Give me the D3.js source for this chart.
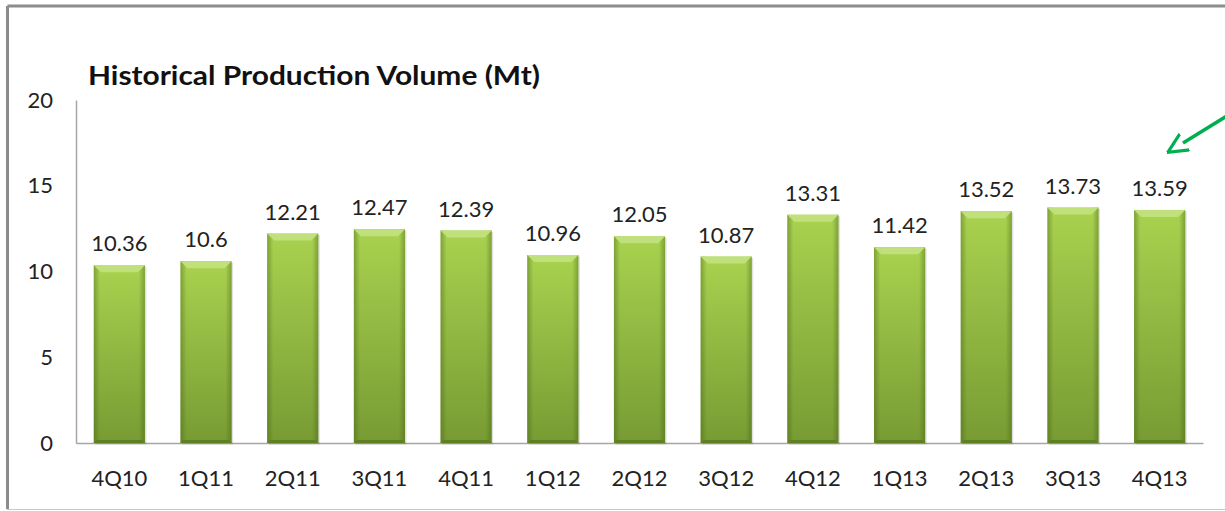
<!DOCTYPE html>
<html>
<head>
<meta charset="utf-8">
<script src="https://cdn.jsdelivr.net/npm/d3@7"></script>
<style>
  body { margin: 0; background: #fff; }
  svg { display: block; }
</style>
</head>
<body>
<div class="chart"></div>
<script>
var width = 1225
var height = 511

const quarters = ["4Q10","1Q11","2Q11","3Q11","4Q11","1Q12","2Q12","3Q12","4Q12","1Q13","2Q13","3Q13","4Q13"]
const volumes = [10.36, 10.6, 12.21, 12.47, 12.39, 10.96, 12.05, 10.87, 13.31, 11.42, 13.52, 13.73, 13.59]
const volumeLabels = ["10.36","10.6","12.21","12.47","12.39","10.96","12.05","10.87","13.31","11.42","13.52","13.73","13.59"]
const yTicks = [0, 5, 10, 15, 20]
const title = "Historical Production Volume (Mt)"

var font = "Lato, 'Open Sans', sans-serif"

var svg = d3.select(".chart")
  .append("svg")
  .attr("width", width)
  .attr("height", height)

// slide frame
svg.append("line")
  .attr("x1", 7.5).attr("y1", 6).attr("x2", width).attr("y2", 6)
  .attr("stroke", "#8c8c8c").attr("stroke-width", 3)
svg.append("line")
  .attr("x1", 7.5).attr("y1", 6).attr("x2", 7.5).attr("y2", 509)
  .attr("stroke", "#8c8c8c").attr("stroke-width", 3)
svg.append("line")
  .attr("x1", 7).attr("y1", 509.5).attr("x2", width).attr("y2", 509.5)
  .attr("stroke", "#c8c8c8").attr("stroke-width", 1)

var defs = svg.append("defs")
var vg = defs.append("linearGradient").attr("id", "barV")
  .attr("x1", 0).attr("y1", 0).attr("x2", 0).attr("y2", 1)
vg.append("stop").attr("offset", "0%").attr("stop-color", "#a9d24f")
vg.append("stop").attr("offset", "100%").attr("stop-color", "#779b33")
var hg = defs.append("linearGradient").attr("id", "barH")
  .attr("x1", 0).attr("y1", 0).attr("x2", 1).attr("y2", 0)
hg.append("stop").attr("offset", "0%").attr("stop-color", "#3e5a12").attr("stop-opacity", 0.4)
hg.append("stop").attr("offset", "12%").attr("stop-color", "#3e5a12").attr("stop-opacity", 0)
hg.append("stop").attr("offset", "88%").attr("stop-color", "#3e5a12").attr("stop-opacity", 0)
hg.append("stop").attr("offset", "100%").attr("stop-color", "#3e5a12").attr("stop-opacity", 0.4)

var x = d3.scaleBand()
  .domain(quarters)
  .range([76, 1203])
  .paddingInner(0.41)
  .paddingOuter(0.205)

var y = d3.scaleLinear()
  .domain([0, 20])
  .range([443, 100])

// title
svg.append("text")
  .attr("x", 88).attr("y", 85)
  .attr("font-family", font)
  .attr("font-weight", "bold")
  .attr("font-size", 26)
  .attr("textLength", 452)
  .attr("lengthAdjust", "spacingAndGlyphs")
  .attr("fill", "#111")
  .text(title)

// y axis
var yAxis = svg.append("g")
  .attr("transform", "translate(76,0)")
  .call(d3.axisLeft(y).tickValues(yTicks).tickSize(0).tickPadding(23))
yAxis.select(".domain").attr("stroke", "#a6a6a6").attr("stroke-width", 1.5)
yAxis.selectAll("text")
  .attr("font-family", font).attr("font-size", 22).attr("fill", "#222")

// x axis
var xAxis = svg.append("g")
  .attr("transform", "translate(0,443)")
  .call(d3.axisBottom(x).tickSize(0).tickPadding(27))
xAxis.select(".domain").attr("stroke", "#a6a6a6").attr("stroke-width", 1.5)
xAxis.selectAll("text")
  .attr("font-family", font).attr("font-size", 22).attr("fill", "#222")

var data = quarters.map((q, i) => ({q: q, v: volumes[i], label: volumeLabels[i]}))

var bars = svg.selectAll("g.bar")
  .data(data)
  .enter()
  .append("g")
  .attr("class", "bar")

bars.append("rect")
  .attr("x", d => x(d.q) + 1.5)
  .attr("y", d => y(d.v) + 1.5)
  .attr("width", x.bandwidth())
  .attr("height", d => y(0) - y(d.v))
  .attr("fill", "#000").attr("opacity", 0.12)

bars.append("rect")
  .attr("x", d => x(d.q))
  .attr("y", d => y(d.v))
  .attr("width", x.bandwidth())
  .attr("height", d => y(0) - y(d.v))
  .attr("fill", "url(#barV)")

bars.append("rect")
  .attr("x", d => x(d.q))
  .attr("y", d => y(d.v))
  .attr("width", x.bandwidth())
  .attr("height", d => y(0) - y(d.v))
  .attr("fill", "url(#barH)")

// top bevel
var bev = 7
bars.append("polygon")
  .attr("points", d => {
    var x0 = x(d.q), x1 = x0 + x.bandwidth(), t = y(d.v)
    return [[x0, t], [x1, t], [x1 - bev, t + bev], [x0 + bev, t + bev]].join(" ")
  })
  .attr("fill", "#bfe07a")

// bottom bevel
bars.append("polygon")
  .attr("points", d => {
    var x0 = x(d.q), x1 = x0 + x.bandwidth(), b = y(0)
    return [[x0, b], [x1, b], [x1 - 3, b - 3], [x0 + 3, b - 3]].join(" ")
  })
  .attr("fill", "#5e8022")

bars.append("text")
  .attr("x", d => x(d.q) + x.bandwidth() / 2)
  .attr("y", d => y(d.v) - 14)
  .attr("text-anchor", "middle")
  .attr("font-family", font)
  .attr("font-size", 22)
  .attr("fill", "#222")
  .text(d => d.label)

// green arrow on the right
defs.append("marker")
  .attr("id", "head")
  .attr("viewBox", "0 0 10 10")
  .attr("refX", 1).attr("refY", 5)
  .attr("markerWidth", 6).attr("markerHeight", 6)
  .attr("orient", "auto")
  .append("path")
  .attr("d", "M0,0.5 L9.5,5 L0,9.5")
  .attr("fill", "none").attr("stroke", "#00b050").attr("stroke-width", 1.5)
svg.append("line")
  .attr("x1", 1230).attr("y1", 114).attr("x2", 1183).attr("y2", 143)
  .attr("stroke", "#00b050").attr("stroke-width", 3.5)
  .attr("marker-end", "url(#head)")
</script>
</body>
</html>
